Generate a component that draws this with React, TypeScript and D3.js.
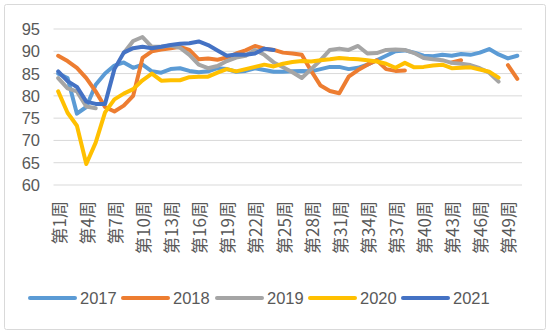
import React from "react";
import * as d3 from "d3";

const weeks: number[] = Array.from({ length: 50 }, (_, i) => i + 1);
const tickWeeks: number[] = [1, 4, 7, 10, 13, 16, 19, 22, 25, 28, 31, 34, 37, 40, 43, 46, 49];
const yTicks: number[] = [60, 65, 70, 75, 80, 85, 90, 95];

const s2017: (number | null)[] = [85, 84, 76, 77.5, 82.5, 85, 86.8, 87.5, 86.3, 87, 85.5, 85.2, 86, 86.2, 85.6, 85.3, 85.5, 86.2, 86, 85.4, 85.6, 86.2, 85.8, 85.4, 85.4, 85.5, 85.6, 85.5, 86, 86.5, 86.5, 86, 86.3, 87, 88, 89, 90, 90.2, 89.7, 89, 88.9, 89.2, 89, 89.4, 89.2, 89.7, 90.5, 89.3, 88.4, 89];
const s2018: (number | null)[] = [89, 87.8, 86.3, 84, 81, 77.5, 76.5, 77.8, 80, 88.5, 90, 90.4, 90.7, 91, 90.3, 88.2, 88.4, 88.1, 88.6, 89.5, 90.2, 91.2, 90.6, 90.3, 89.7, 89.5, 89.2, 85.6, 82.3, 81.1, 80.6, 84.3, 85.8, 87, 88, 86, 85.6, 85.7, null, null, null, null, 87.5, 88, null, null, null, null, 86.9, 83.8];
const s2019: (number | null)[] = [84, 81.7, 81, 77.6, 77.2, null, null, 89.6, 92.3, 93.2, 91, 91, 91.3, 90.8, 89.2, 87, 86.2, 86.7, 87.8, 88.6, 89, 90.3, 89.2, 87.5, 86.4, 85.3, 84, 86, 88, 90.3, 90.6, 90.3, 91.2, 89.5, 89.6, 90.3, 90.4, 90.3, 89.6, 88.5, 88.2, 88, 87.4, 87.2, 86.9, 86.2, 85.2, 83.2, null, null];
const s2020: (number | null)[] = [81, 76.2, 73.3, 64.7, 69.5, 76.3, 79.2, 80.5, 81.5, 83.5, 85, 83.4, 83.5, 83.5, 84.2, 84.3, 84.3, 85.2, 86, 85.5, 86, 86.5, 87, 86.6, 87.2, 87.6, 87.8, 87.7, 88, 88.2, 88.5, 88.3, 88.2, 88, 87.7, 87.2, 86.3, 87.4, 86.4, 86.5, 86.8, 87, 86.2, 86.3, 86.4, 85.9, 85.4, 84.1, null, null];
const s2021: (number | null)[] = [85.5, 83.3, 82, 78.7, 78.2, 78.2, 86, 89.7, 90.7, 91, 90.7, 91, 91.4, 91.7, 91.8, 92.2, 91.4, 90.2, 89, 89.3, 89.2, 89.5, 90.6, 90.3, null, null, null, null, null, null, null, null, null, null, null, null, null, null, null, null, null, null, null, null, null, null, null, null, null, null];

const seriesNames: string[] = ["2017", "2018", "2019", "2020", "2021"];
const seriesColors: string[] = ["#5B9BD5", "#ED7D31", "#A5A5A5", "#FFC000", "#4472C4"];
const seriesData = [s2017, s2018, s2019, s2020, s2021];

export default function App() {
  const W = 550, H = 334;
  const x = d3.scaleBand<number>().domain(weeks).range([53.5, 522]).paddingInner(0).paddingOuter(0);
  const cx = (w: number) => (x(w) as number) + x.bandwidth() / 2;
  const y = d3.scaleLinear().domain([60, 95]).range([185, 29]);
  const line = d3
    .line<number | null>()
    .defined((d) => d != null)
    .x((_, i) => cx(weeks[i]))
    .y((d) => y(d as number));

  const legendX = [30, 123, 217, 310, 403];
  const legendY = 298;

  return (
    <svg width={W} height={H} style={{ position: "absolute", left: 0, top: 0, background: "#fff" }}>
      <rect x={4.5} y={4.5} width={541} height={325} rx={2} fill="#fff" stroke="#D9D9D9" strokeWidth={1} />
      {yTicks.map((t) => (
        <g key={t}>
          <line x1={53.5} x2={522} y1={y(t)} y2={y(t)} stroke="#D9D9D9" strokeWidth={1} />
          <text x={40} y={y(t)} textAnchor="end" dominantBaseline="central" fontFamily="'Liberation Sans', Arial, sans-serif" fontSize={16.5} fill="#595959">
            {t}
          </text>
        </g>
      ))}
      {tickWeeks.map((w) => (
        <text
          key={w}
          transform={`translate(${cx(w)},201) rotate(-90)`}
          textAnchor="end"
          dominantBaseline="central"
          fontFamily="'Noto Sans CJK SC', sans-serif"
          fontSize={17}
          fill="#595959"
        >
          {`第${w}周`}
        </text>
      ))}
      {seriesData.map((s, i) => (
        <path key={i} d={line(s) || ""} fill="none" stroke={seriesColors[i]} strokeWidth={4} strokeLinejoin="round" strokeLinecap="round" />
      ))}
      {seriesNames.map((n, i) => (
        <g key={n}>
          <line x1={legendX[i]} x2={legendX[i] + 45} y1={legendY} y2={legendY} stroke={seriesColors[i]} strokeWidth={4} strokeLinecap="round" />
          <text x={legendX[i] + 50} y={legendY} dominantBaseline="central" fontFamily="'Liberation Sans', Arial, sans-serif" fontSize={16.5} fill="#595959">
            {n}
          </text>
        </g>
      ))}
    </svg>
  );
}
